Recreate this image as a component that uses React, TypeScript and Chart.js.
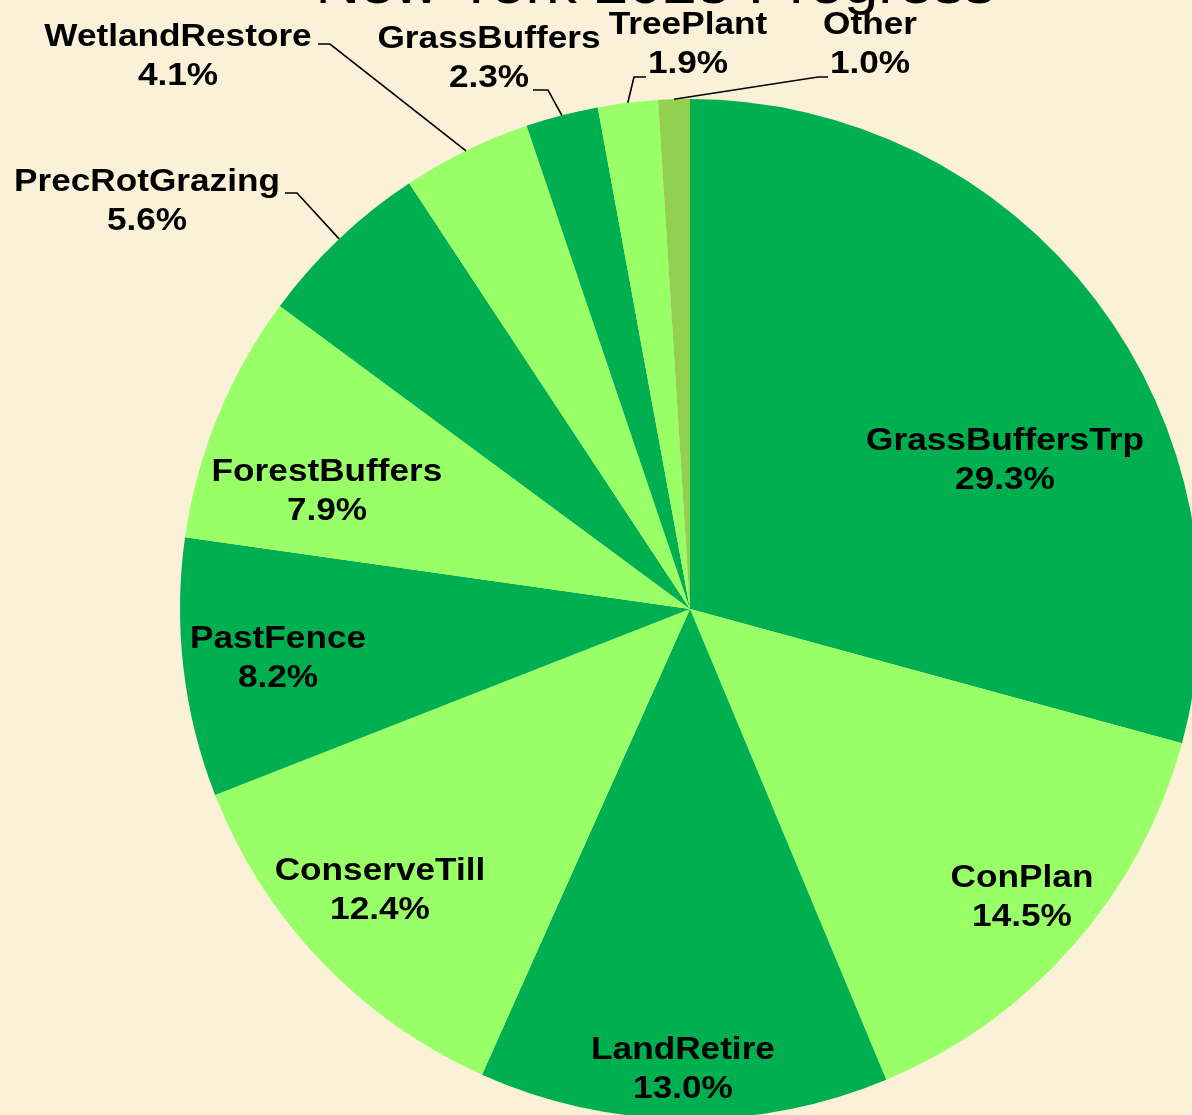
import React, { useEffect, useRef } from "react";
import { Chart, registerables } from "chart.js";

Chart.register(...registerables);

const TITLE = "New York 2025 Progress";

const categories = [
  "GrassBuffersTrp",
  "ConPlan",
  "LandRetire",
  "ConserveTill",
  "PastFence",
  "ForestBuffers",
  "PrecRotGrazing",
  "WetlandRestore",
  "GrassBuffers",
  "TreePlant",
  "Other",
];

const shares = [29.3, 14.5, 13.0, 12.4, 8.2, 7.9, 5.6, 4.1, 2.3, 1.9, 1.0];

const DARK = "#00B050";
const LIGHT = "#99FF66";
const OTHER = "#92D050";
const sliceColors = [DARK, LIGHT, DARK, LIGHT, DARK, LIGHT, DARK, LIGHT, DARK, LIGHT, OTHER];

// label block centres, offset in px from the pie centre
const labelOffsets: [number, number][] = [
  [315, -148],
  [332, 289],
  [-7, 461],
  [-310, 282],
  [-412, 50],
  [-363, -117],
  [-543, -407],
  [-512, -552],
  [-201, -550],
  [-2, -564],
  [180, -564],
];

// leader lines for outside labels: [startDx, startDy, elbowDx] relative to pie centre
const leaders: ([number, number, number] | null)[] = [
  null,
  null,
  null,
  null,
  null,
  null,
  [-405, -416, -393],
  [-372, -565, -360],
  [-157, -519, -142],
  [-44, -532, -56],
  [138, -532, 128],
];

const BG = "#FBF0D8";
const FONT = "'Liberation Sans', Arial, sans-serif";
const STRETCH = 1.1;
const LINE_GAP = 39;

const CANVAS_W = 1300;
const CANVAS_H = 1250;

function drawStretched(ctx: CanvasRenderingContext2D, text: string, x: number, y: number) {
  ctx.save();
  ctx.translate(x, y);
  ctx.scale(STRETCH, 1);
  ctx.fillText(text, 0, 0);
  ctx.restore();
}

const labelPlugin = {
  id: "pieLabels",
  afterDraw(chart: any) {
    const ctx: CanvasRenderingContext2D = chart.ctx;
    const meta = chart.getDatasetMeta(0);
    if (!meta || !meta.data.length) return;
    const first = meta.data[0] as any;
    const cx = first.x;
    const cy = first.y;

    ctx.save();
    // title (partly above the visible area, as in the reference)
    ctx.fillStyle = "#000000";
    ctx.textAlign = "center";
    ctx.textBaseline = "alphabetic";
    ctx.font = `56px ${FONT}`;
    drawStretched(ctx, TITLE, cx - 35, 3);

    // leader lines
    ctx.strokeStyle = "#000000";
    ctx.lineWidth = 1.6;
    meta.data.forEach((arc: any, i: number) => {
      const ld = leaders[i];
      if (!ld) return;
      const mid = (arc.startAngle + arc.endAngle) / 2;
      const r = arc.outerRadius;
      const ex = cx + Math.cos(mid) * r;
      const ey = cy + Math.sin(mid) * r;
      ctx.beginPath();
      ctx.moveTo(cx + ld[0], cy + ld[1]);
      ctx.lineTo(cx + ld[2], cy + ld[1]);
      ctx.lineTo(ex, ey);
      ctx.stroke();
    });

    // labels
    ctx.font = `bold 32px ${FONT}`;
    ctx.textBaseline = "middle";
    ctx.textAlign = "center";
    categories.forEach((name, i) => {
      const [dx, dy] = labelOffsets[i];
      const x = cx + dx;
      const y = cy + dy;
      drawStretched(ctx, name, x, y - LINE_GAP / 2);
      drawStretched(ctx, shares[i].toFixed(1) + "%", x, y + LINE_GAP / 2);
    });
    ctx.restore();
  },
};

export default function App() {
  const canvasRef = useRef<HTMLCanvasElement | null>(null);

  useEffect(() => {
    if (!canvasRef.current) return;
    const chart = new Chart(canvasRef.current, {
      type: "pie",
      data: {
        labels: categories,
        datasets: [
          {
            data: shares,
            backgroundColor: sliceColors,
            borderWidth: 0,
          },
        ],
      },
      options: {
        responsive: false,
        animation: false,
        devicePixelRatio: 1,
        layout: {
          padding: { left: 180, top: 99, right: CANVAS_W - 1200, bottom: CANVAS_H - 1119 },
        },
        plugins: {
          legend: { display: false },
          tooltip: { enabled: false },
          title: { display: false },
        },
      },
      plugins: [labelPlugin],
    });
    return () => chart.destroy();
  }, []);

  return (
    <div
      style={{
        position: "fixed",
        left: 0,
        top: 0,
        width: 1192,
        height: 1115,
        overflow: "hidden",
        background: BG,
      }}
    >
      <canvas
        ref={canvasRef}
        width={CANVAS_W}
        height={CANVAS_H}
        style={{ position: "absolute", left: 0, top: 0, width: CANVAS_W, height: CANVAS_H }}
      />
    </div>
  );
}
